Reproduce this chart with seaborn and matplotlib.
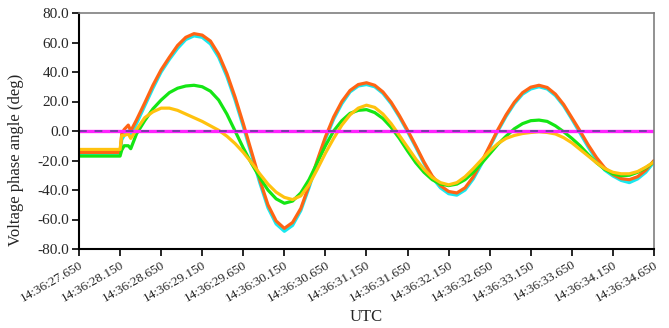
import matplotlib
matplotlib.use("Agg")
import matplotlib.pyplot as plt
import pandas as pd
import seaborn as sns

# seconds after 14:36:00 (UTC)
t = [27.65, 27.75, 27.85, 27.95, 28.05, 28.15, 28.17, 28.20, 28.25, 28.28,
     28.35, 28.45, 28.55, 28.65, 28.75, 28.85, 28.95, 29.05, 29.15, 29.25,
     29.35, 29.45, 29.55, 29.65, 29.75, 29.85, 29.95, 30.05, 30.15, 30.25,
     30.35, 30.45, 30.55, 30.65, 30.75, 30.85, 30.95, 31.05, 31.15, 31.25,
     31.35, 31.45, 31.55, 31.65, 31.75, 31.85, 31.95, 32.05, 32.15, 32.25,
     32.35, 32.45, 32.55, 32.65, 32.75, 32.85, 32.95, 33.05, 33.15, 33.25,
     33.35, 33.45, 33.55, 33.65, 33.75, 33.85, 33.95, 34.05, 34.15, 34.25,
     34.35, 34.45, 34.55, 34.65]

orange = [-14.5, -14.5, -14.5, -14.5, -14.5, -14.5, -2, 1, 4, 0,
          7.5, 19, 31, 41.5, 50, 58, 63.5, 66, 65, 61,
          52, 39, 23, 5, -14, -33, -50, -61, -66, -62,
          -52.5, -37, -20, -4, 9.5, 20, 27.5, 31.5, 32.7, 31,
          26.5, 19.5, 10.5, 0.5, -10, -21, -30.5, -37, -41, -42,
          -38.5, -31, -21, -10, 1, 11, 19.5, 26, 29.7, 31,
          29.5, 25, 18, 9, 0, -9.5, -18, -25, -29.5, -32.3,
          -33, -31, -26.5, -20]

cyan = [-15.5, -15.5, -15.5, -15.5, -15.5, -15.5, -6, -3, 0, -3,
        5, 17, 29, 40, 48.5, 56, 62, 64.5, 63.5, 59,
        50, 37, 21, 3, -16, -35, -52, -63, -68, -64,
        -54, -38.5, -21.5, -5.5, 8, 18.5, 26.5, 30.5, 31.5, 30,
        25.5, 18.5, 9.5, -0.5, -11, -22, -31.5, -38.5, -42.5, -43.5,
        -40, -32.5, -22.5, -11, 0, 10, 18.5, 25, 28.5, 30,
        28.5, 24, 17, 8, -1.5, -11, -19.5, -26.5, -30.5, -33.5,
        -35, -32.5, -28, -21]

green = [-17, -17, -17, -17, -17, -17, -13, -10, -10, -12,
         -2, 7, 15, 21, 26, 29, 30.5, 31, 30, 27,
         21, 11.5, 0, -11.5, -22, -31.5, -40, -46, -49, -47.5,
         -42, -33, -21.5, -10, 0, 7, 12, 14, 14.5, 12.5,
         8.5, 2.5, -5, -13.5, -21.5, -28, -33, -36, -37, -36,
         -33, -28, -22, -15.5, -9, -3.5, 1.5, 5, 7, 7.4,
         6.5, 3.5, -0.5, -5, -10, -16, -21.5, -26, -29, -30.3,
         -30, -28, -25, -21]

yellow = [-12.5, -12.5, -12.5, -12.5, -12.5, -12.5, -3, -3, -2, -5,
          1, 9, 13, 15.5, 15.5, 14, 11.5, 9, 6.5, 3.5,
          0.5, -3.5, -8.5, -14.5, -21.5, -29, -36, -41.5, -45, -46.5,
          -44, -36.5, -26, -15, -5, 4, 11, 15.5, 17.5, 16,
          11.5, 5, -3, -11, -19, -26, -31.5, -35, -36.5, -35,
          -31, -25.5, -19.5, -13.5, -8.5, -5, -3, -1.7, -1, -0.5,
          -1, -2, -4.5, -8, -12.5, -17, -21.5, -25.5, -28, -29,
          -29, -27.5, -24.5, -21]

reference = [0.0] * len(t)

x_ticks = [27.65, 28.15, 28.65, 29.15, 29.65, 30.15, 30.65, 31.15,
           31.65, 32.15, 32.65, 33.15, 33.65, 34.15, 34.65]
x_tick_labels = ["14:36:27.650", "14:36:28.150", "14:36:28.650", "14:36:29.150",
                 "14:36:29.650", "14:36:30.150", "14:36:30.650", "14:36:31.150",
                 "14:36:31.650", "14:36:32.150", "14:36:32.650", "14:36:33.150",
                 "14:36:33.650", "14:36:34.150", "14:36:34.650"]
y_ticks = [-80, -60, -40, -20, 0, 20, 40, 60, 80]

series = {"cyan": cyan, "orange": orange, "green": green, "yellow": yellow}
colors = {"cyan": "#19e8ee", "orange": "#ff6414", "green": "#14e614", "yellow": "#ffc20e"}

df = pd.concat(
    [pd.DataFrame({"t": t, "angle": v, "series": k}) for k, v in series.items()],
    ignore_index=True,
)

sns.set_style("white")
plt.rcParams["font.family"] = ["Liberation Serif", "DejaVu Serif"]

fig = plt.figure(figsize=(6.69, 3.28), dpi=100)
ax = fig.add_axes([79 / 669, 1 - 249 / 328, 575 / 669, 236 / 328])

sns.lineplot(data=df, x="t", y="angle", hue="series", hue_order=list(series),
             palette=colors, linewidth=2.3, legend=False, ax=ax)

# zero reference: magenta line with purple dashes on top
sns.lineplot(x=t, y=reference, color="#ff22ff", linewidth=2.4, ax=ax)
sns.lineplot(x=t, y=reference, color="#7a3aa8", linewidth=1.4,
             linestyle=(0, (4, 4)), ax=ax)

ax.set_xlim(27.65, 34.65)
ax.set_ylim(-80, 80)
ax.set_xticks(x_ticks)
ax.set_xticklabels(x_tick_labels, rotation=30, ha="right",
                   rotation_mode="anchor", fontsize=9.5)
ax.set_yticks(y_ticks)
ax.set_yticklabels([f"{v:.1f}" for v in y_ticks], fontsize=11)

ax.tick_params(axis="both", direction="out", length=5, width=1.2,
               color="black", bottom=True, left=True, pad=2)
for side in ["left", "bottom"]:
    ax.spines[side].set_color("black")
    ax.spines[side].set_linewidth(1.5)
for side in ["top", "right"]:
    ax.spines[side].set_color("#7f7f7f")
    ax.spines[side].set_linewidth(1.2)

ax.set_xlabel("UTC", fontsize=12)
ax.set_ylabel("Voltage phase angle (deg)", fontsize=12)
ax.xaxis.set_label_coords(0.5, -0.255)
ax.yaxis.set_label_coords(-0.095, 0.377)

fig.savefig("out.png", dpi=100)
